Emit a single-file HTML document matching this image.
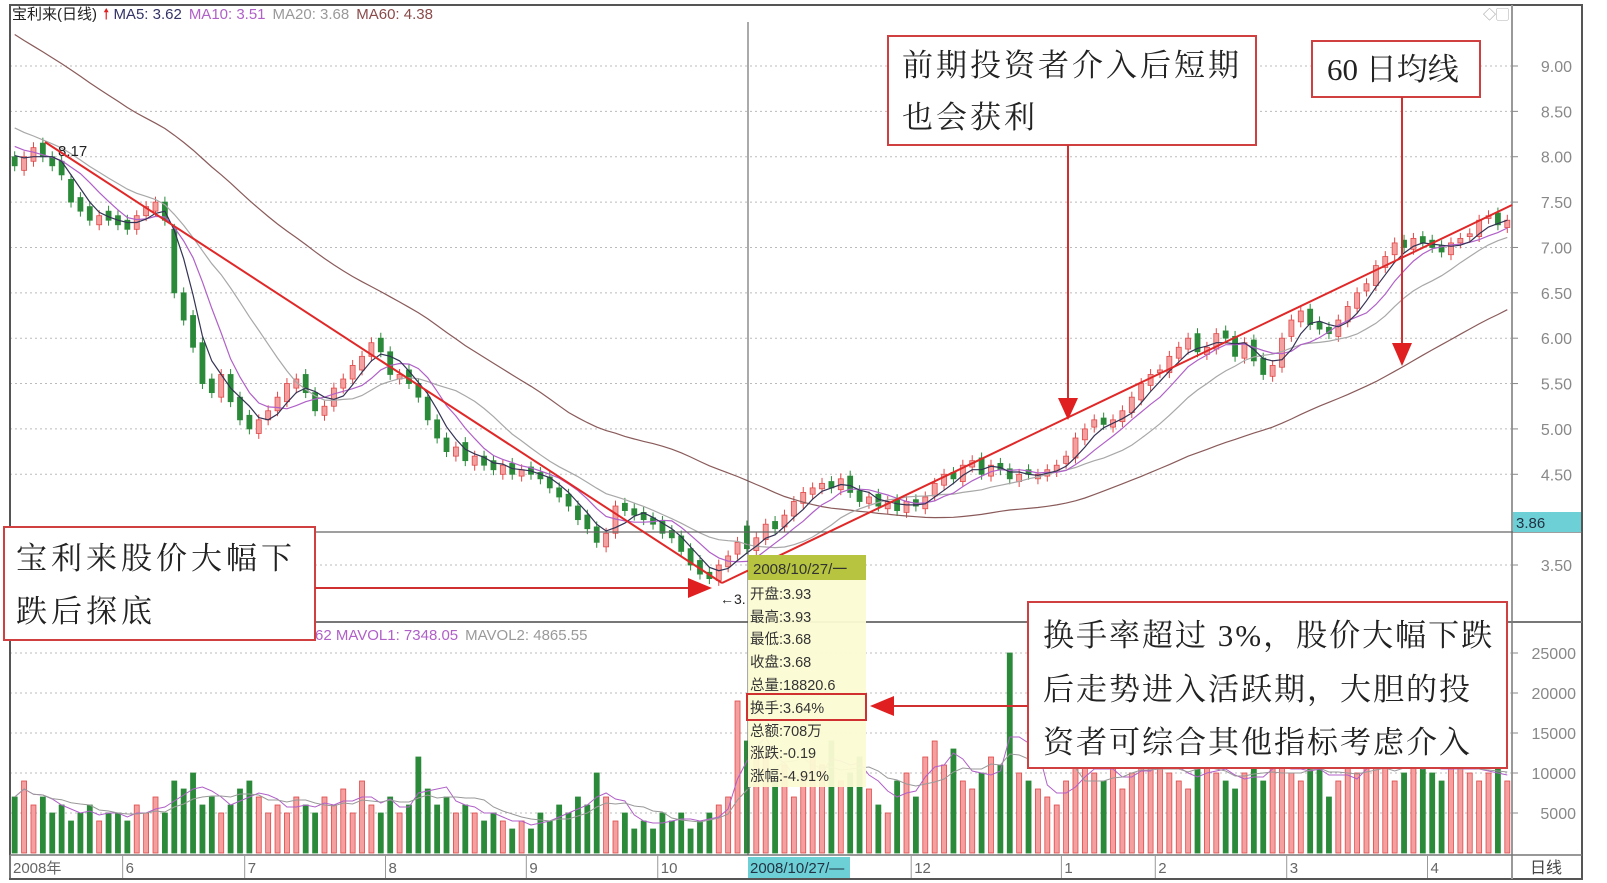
<!DOCTYPE html>
<html><head><meta charset="utf-8"><style>
html,body{margin:0;padding:0;background:#fff;}
svg{display:block;font-family:"Liberation Sans","Noto Sans CJK SC",sans-serif;}
.cn{font-family:"Liberation Serif","Noto Serif CJK SC",serif;}
</style></head><body>
<svg id="chart" width="1607" height="883" viewBox="0 0 1607 883" xmlns="http://www.w3.org/2000/svg">
<rect x="0" y="0" width="1607" height="883" fill="#fff"/>
<defs><clipPath id="pclip"><rect x="10" y="22" width="1502" height="600"/></clipPath>
<clipPath id="vclip"><rect x="10" y="622" width="1502" height="232"/></clipPath></defs>
<g id="grid"></g>
<g id="candles" clip-path="url(#pclip)"></g>
<g id="malines" clip-path="url(#pclip)"></g>
<g id="vols" clip-path="url(#vclip)"></g>
<g id="frame"></g>
<g id="axes"></g>
<g id="annot"></g>
</svg>
<script>
const prehist=[10.9,10.85,10.8,10.7,10.65,10.6,10.5,10.45,10.4,10.3,10.2,10.15,10.1,10.0,9.9,9.85,9.8,9.7,9.6,9.55,9.5,9.4,9.3,9.25,9.2,9.1,9.0,8.95,8.9,8.8,8.7,8.65,8.6,8.5,8.45,8.4,8.35,8.3,8.25,8.2,8.1,8.05,8.0];
const closes=[7.9,8.0,8.1,8.0,7.9,7.8, 7.5,7.4,7.3,7.35,7.3,7.25,7.2,7.35,7.45,7.5, 7.3,6.5,6.2,5.9,5.5,5.4,5.6,5.3,5.1,5.0,5.1,5.2,5.35,5.5, 5.55,5.4,5.2,5.25,5.45,5.55,5.7,5.8,5.95,5.85, 5.6,5.6,5.5,5.35,5.1,4.9,4.75,4.8,4.65,4.7, 4.6,4.55,4.6,4.5,4.55,4.5,4.45,4.35,4.25,4.15, 4.0,3.9,3.75,3.85,4.15,4.1,4.05,4.0,3.95,3.85, 3.8,3.65,3.5,3.4,3.35,3.5,3.6,3.75,3.68,3.8, 3.95,3.9,4.05,4.2,4.3,4.35,4.4,4.35,4.45,4.3, 4.2,4.25,4.15,4.2,4.1,4.2,4.15,4.25,4.4,4.5, 4.45,4.6,4.65,4.5,4.6,4.55,4.45,4.5,4.5,4.5, 4.55,4.6,4.7,4.9,5.0,5.1,5.05,5.1,5.2,5.35, 5.5,5.6,5.65,5.8,5.9,6.0,5.85,5.9,6.05,6.0, 5.8,5.95,5.75,5.6,5.7,6.0,6.2,6.3,6.15,6.1, 6.05,6.2,6.35,6.5,6.6,6.8,6.9,7.05,7.0,7.1, 7.05,7.0,6.95,7.05,7.1,7.15,7.3,7.35,7.25,7.3];
const opens=[8.0,7.85,7.95,8.15,8.0,7.95, 7.75,7.55,7.45,7.25,7.4,7.35,7.3,7.2,7.35,7.4, 7.5,7.2,6.5,6.25,5.95,5.55,5.35,5.6,5.35,5.15,4.95,5.1,5.2,5.3, 5.45,5.6,5.4,5.15,5.25,5.45,5.55,5.65,5.8,6.0, 5.85,5.55,5.65,5.5,5.35,5.1,4.9,4.7,4.85,4.6, 4.7,4.65,4.5,4.62,4.48,4.58,4.52,4.47,4.35,4.28, 4.15,4.05,3.92,3.7,3.85,4.18,4.12,4.08,4.02,3.98, 3.88,3.82,3.68,3.55,3.42,3.33,3.48,3.62,3.93,3.66, 3.78,3.98,3.92,4.04,4.18,4.28,4.34,4.42,4.33,4.48, 4.32,4.18,4.28,4.12,4.22,4.08,4.22,4.12,4.26,4.38, 4.52,4.42,4.58,4.68,4.48,4.62,4.56,4.42,4.55,4.45, 4.48,4.53,4.62,4.68,4.88,5.02,5.12,5.02,5.08,5.18, 5.32,5.48,5.62,5.62,5.78,5.88,6.05,5.82,5.88,6.08, 6.02,5.78,5.98,5.78,5.58,5.68,6.02,6.18,6.32,6.18, 6.12,6.02,6.18,6.33,6.52,6.58,6.78,6.92,7.08,6.98, 7.12,7.08,7.02,6.92,7.05,7.12,7.12,7.32,7.38,7.22];
const volumes=[7,9,6,7,5,6,4,5,6,4,5,5,4,6,5,7,5, 9,8,10,6,7,5,6,8,9,7,5,6,5,7, 6,5,7,6,8,5,9,6,5,7,5,6,12,8,6, 7,5,6,5,4,5,4,3,4,3,5,4,6,5,7, 6,10,7,4,5,3,4,3,5,4,5,3,4,5,6, 7,19,14,13,12,9,11,7,10,12,11,14,9,10,12, 8,6,5,9,10,7,12,14,11,13,9,8,10,12,11, 25,10,9,8,7,6,9,11,12,10,9,11,8,10,12, 11,13,10,9,8,11,12,10,9,8,10,11,9,12,11, 10,9,11,12,7,9,11,10,12,11,13,9,10,11,12, 10,9,11,12,10,9,10,11,9];
const priceTicks=[9.0,8.5,8.0,7.5,7.0,6.5,6.0,5.5,5.0,4.5,3.5];
const volTicks=[25000,20000,15000,10000,5000];
const monthLabels=["2008年","6","7","8","9","10","12","1","2","3","4"];
const monthIdx=[0,12,25,40,55,69,96,112,122,136,151];

const NS="http://www.w3.org/2000/svg";
const X0=10,X1=1512,N=closes.length,STEP=(X1-X0)/N;
const xs=i=>X0+STEP*(i+0.5);
const yp=p=>66+(9-p)*90.73;
const yv=v=>853-v*1000*40/5000;
function mk(tag,attrs,parent,text){const e=document.createElementNS(NS,tag);for(const k in attrs)e.setAttribute(k,attrs[k]);if(text!==undefined)e.textContent=text;document.getElementById(parent).appendChild(e);return e;}

// grid
priceTicks.forEach(t=>{const g=mk('line',{x1:X0,x2:X1,y1:yp(t),y2:yp(t),stroke:'#bbb','stroke-dasharray':'2,3'},'grid');

});
volTicks.forEach(t=>{const g=mk('line',{x1:X0,x2:X1,y1:yv(t/1000),y2:yv(t/1000),stroke:'#bbb','stroke-dasharray':'2,3'},'grid');

});

// candles
const all=prehist.concat(closes),P=prehist.length;
for(let i=0;i<N;i++){
  const o=opens[i],c=closes[i],up=c>=o,x=xs(i);
  const hi=Math.max(o,c)+0.06,lo=Math.min(o,c)-0.06;
  const col=up?'#e04848':'#2b8a3a';
  const w=mk('line',{x1:x,x2:x,y1:yp(hi),y2:yp(lo),stroke:col,'stroke-width':1},'candles');
  
  
  const top=yp(Math.max(o,c)),h=Math.max(1.5,Math.abs(yp(o)-yp(c)));
  const b=mk('rect',{x:x-2.5,y:top,width:5,height:h,fill:up?'#f4a0a0':col,stroke:col,'stroke-width':0.8},'candles');
  
  
}
// MA lines
function maLine(win,color,name){
  let d='';
  for(let i=0;i<N;i++){const j=i+P;let s=0,n=0;for(let k=Math.max(0,j-win+1);k<=j;k++){s+=all[k];n++;}d+=(i?'L':'M')+xs(i).toFixed(1)+','+yp(s/n).toFixed(1);}
  const l=mk('path',{d:d,fill:'none',stroke:color,'stroke-width':1.2},'malines');
  
  
}
maLine(43,'#8a5a5a','ma60-line');maLine(14,'#a8a8a8','ma20-line');maLine(7,'#b060c8','ma10-line');maLine(4,'#333355','ma5-line');
// MA60 extension to left edge
// volume bars
for(let i=0;i<N;i++){
  const up=closes[i]>=opens[i],x=xs(i),col=up?'#e04848':'#2b8a3a';
  const r=mk('rect',{x:x-2.5,y:yv(volumes[i]),width:5,height:853-yv(volumes[i]),fill:up?'#f4a0a0':col,stroke:col,'stroke-width':0.8},'vols');
  
  
}
function vmaLine(win,color,name){let d='';for(let i=0;i<N;i++){let s=0,n=0;for(let k=Math.max(0,i-win+1);k<=i;k++){s+=volumes[k];n++;}d+=(i?'L':'M')+xs(i).toFixed(1)+','+yv(s/n).toFixed(1);}
  const l=mk('path',{d:d,fill:'none',stroke:color,'stroke-width':1},'vols');
  
  }
vmaLine(4,'#b060c8','mavol1-line');vmaLine(8,'#999','mavol2-line');

// axes ticks labels
priceTicks.forEach(t=>{mk('line',{x1:X1,x2:X1+6,y1:yp(t),y2:yp(t),stroke:'#888'},'axes');
  const tl=mk('text',{x:1572,y:yp(t)+6,'font-size':16,fill:'#888','text-anchor':'end'},'axes',t.toFixed(2));
  
  });
volTicks.forEach(t=>{mk('line',{x1:X1,x2:X1+6,y1:yv(t/1000),y2:yv(t/1000),stroke:'#888'},'axes');
  const tl=mk('text',{x:1576,y:yv(t/1000)+6,'font-size':16,fill:'#888','text-anchor':'end'},'axes',String(t));
  
  });
monthLabels.forEach((m,k)=>{const x=X0+STEP*monthIdx[k];
  mk('line',{x1:x,x2:x,y1:855,y2:878,stroke:'#999'},'axes');
  const tl=mk('text',{x:x+3,y:873,'font-size':15,fill:'#666'},'axes',m);
  
  });
</script>
<script>
// static frame and annotations
const A=document.getElementById('annot'),F=document.getElementById('frame');
F.innerHTML=`
<rect x="10" y="5" width="1572" height="874" fill="none" stroke="#555" stroke-width="2"/>
<line x1="1512" y1="5" x2="1512" y2="879" stroke="#999" stroke-width="2"/>
<line x1="10" y1="622" x2="1582" y2="622" stroke="#777" stroke-width="2"/>
<line x1="10" y1="855" x2="1582" y2="855" stroke="#777" stroke-width="1.5"/>
<line x1="10" y1="532" x2="1582" y2="532" stroke="#666" stroke-width="1.2"/>
<line x1="748" y1="22" x2="748" y2="855" stroke="#555" stroke-width="1"/>
<rect x="1513" y="512" width="68" height="20" fill="#6dd0d6"/>
<text x="1516" y="528" font-size="15" fill="#234">3.86</text>
<rect x="748" y="857" width="102" height="21" fill="#6dd0d6"/>
<text x="750" y="873" font-size="15" fill="#234">2008/10/27/—</text>
<text x="1530" y="873" font-size="16" fill="#444">日线</text>
<text x="12" y="19" font-size="15"><tspan fill="#222">宝利来(日线)</tspan><tspan fill="#e02020" dx="6">🠕</tspan><tspan fill="#333366" dx="4">MA5: 3.62</tspan><tspan fill="#b060c8" dx="7">MA10: 3.51</tspan><tspan fill="#999" dx="7">MA20: 3.68</tspan><tspan fill="#8a4a4a" dx="7">MA60: 4.38</tspan></text>
<text x="1483" y="19" font-size="13" fill="#999">◇▢</text>
<text x="315" y="640" font-size="15"><tspan fill="#b060c8">62 MAVOL1: 7348.05</tspan><tspan fill="#999" dx="7">MAVOL2: 4865.55</tspan></text>
<text x="58" y="156" font-size="15" fill="#222">8.17</text>
<text x="720" y="604" font-size="14" fill="#222">←3.</text>`;
A.innerHTML=`
<line x1="45" y1="142" x2="722" y2="583" stroke="#e02828" stroke-width="2"/>
<line x1="722" y1="583" x2="1512" y2="205" stroke="#e02828" stroke-width="2"/>
<g>
<rect x="748" y="555" width="118" height="232" fill="#fbfbd4" opacity="0.95"/>
<rect x="748" y="555" width="118" height="25" fill="#b6c440"/>
<text x="753" y="574" font-size="15" fill="#333">2008/10/27/一</text>
<g font-size="14.5" fill="#333">
<text x="750" y="599">开盘:3.93</text><text x="750" y="622">最高:3.93</text><text x="750" y="644">最低:3.68</text><text x="750" y="667">收盘:3.68</text><text x="750" y="690">总量:18820.6</text><text x="750" y="713">换手:3.64%</text><text x="750" y="736">总额:708万</text><text x="750" y="758">涨跌:-0.19</text><text x="750" y="781">涨幅:-4.91%</text></g>
<rect x="747" y="694" width="119" height="26" fill="none" stroke="#d03030" stroke-width="2"/>
</g>
<g class="cn">
<rect x="888" y="36" width="368" height="109" fill="#fff" stroke="#d04040" stroke-width="2"/>
<text x="902" y="76" font-size="31" fill="#222" letter-spacing="3">前期投资者介入后短期</text>
<text x="902" y="128" font-size="31" fill="#222" letter-spacing="3">也会获利</text>
<line x1="1068" y1="145" x2="1068" y2="400" stroke="#d03030" stroke-width="2"/>
<polygon points="1058,398 1078,398 1068,420" fill="#e02020"/>
</g>
<g class="cn">
<rect x="1312" y="41" width="168" height="56" fill="#fff" stroke="#d04040" stroke-width="2"/>
<text x="1327" y="80" font-size="31" fill="#222">60 日均线</text>
<line x1="1402" y1="97" x2="1402" y2="345" stroke="#d03030" stroke-width="2"/>
<polygon points="1392,343 1412,343 1402,366" fill="#e02020"/>
</g>
<g class="cn">
<rect x="4" y="527" width="311" height="113" fill="#fff" stroke="#d04040" stroke-width="2"/>
<text x="16" y="569" font-size="31" fill="#222" letter-spacing="4">宝利来股价大幅下</text>
<text x="16" y="622" font-size="31" fill="#222" letter-spacing="4">跌后探底</text>
<line x1="315" y1="588" x2="690" y2="588" stroke="#d03030" stroke-width="2"/>
<polygon points="688,578 688,598 712,588" fill="#e02020"/>
</g>
<g class="cn">
<rect x="1028" y="602" width="479" height="166" fill="#fff" stroke="#d04040" stroke-width="2"/>
<text x="1043" y="646" font-size="31" fill="#222" letter-spacing="2">换手率超过 3%，股价大幅下跌</text>
<text x="1043" y="700" font-size="31" fill="#222" letter-spacing="2">后走势进入活跃期，大胆的投</text>
<text x="1043" y="753" font-size="31" fill="#222" letter-spacing="2">资者可综合其他指标考虑介入</text>
<line x1="1028" y1="706" x2="892" y2="706" stroke="#d03030" stroke-width="2"/>
<polygon points="894,696 894,716 870,706" fill="#e02020"/>
</g>`;
</script>
</body></html>
